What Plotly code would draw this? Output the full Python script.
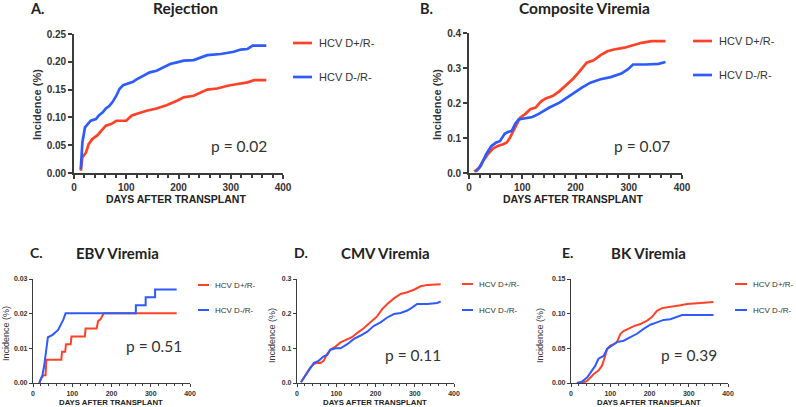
import plotly.graph_objects as go

W, H = 796, 407
RED = "#FF4128"
BLUE = "#2D5BFF"
TXT = "#333333"
AX = "#3C3C3C"

# ---------------- data ----------------
# A. Rejection
a_pos_days = [13, 16, 23, 28, 35, 45, 55, 61, 71, 81, 100, 110, 119, 139, 158, 177, 197, 210, 229, 242, 255, 274, 294, 313, 332, 345, 368]
a_pos_vals = [0.004, 0.028, 0.037, 0.052, 0.061, 0.068, 0.079, 0.085, 0.088, 0.094, 0.094, 0.103, 0.106, 0.112, 0.116, 0.122, 0.130, 0.136, 0.139, 0.145, 0.150, 0.152, 0.157, 0.160, 0.163, 0.167, 0.167]
a_neg_days = [13, 16, 21, 26, 32, 42, 48, 55, 61, 68, 74, 81, 87, 94, 100, 113, 119, 132, 145, 158, 171, 184, 197, 210, 229, 242, 255, 281, 294, 306, 319, 332, 342, 368]
a_neg_vals = [0.007, 0.055, 0.082, 0.088, 0.094, 0.097, 0.104, 0.109, 0.116, 0.121, 0.128, 0.139, 0.151, 0.158, 0.160, 0.164, 0.168, 0.175, 0.181, 0.184, 0.190, 0.196, 0.199, 0.202, 0.203, 0.208, 0.212, 0.214, 0.216, 0.218, 0.222, 0.223, 0.229, 0.229]

# B. Composite Viremia
b_pos_days = [10, 19, 26, 35, 45, 54, 64, 71, 77, 83, 90, 96, 106, 115, 125, 135, 144, 157, 170, 183, 196, 208, 221, 234, 247, 260, 272, 292, 304, 324, 343, 369]
b_pos_vals = [0.004, 0.015, 0.034, 0.053, 0.070, 0.077, 0.082, 0.087, 0.101, 0.120, 0.144, 0.158, 0.169, 0.182, 0.187, 0.204, 0.213, 0.220, 0.234, 0.253, 0.270, 0.291, 0.315, 0.322, 0.337, 0.348, 0.353, 0.358, 0.363, 0.372, 0.377, 0.377]
b_neg_days = [13, 22, 32, 42, 51, 58, 67, 74, 80, 87, 93, 106, 119, 131, 151, 170, 183, 196, 212, 228, 247, 266, 286, 298, 308, 332, 356, 369]
b_neg_vals = [0.004, 0.020, 0.053, 0.077, 0.087, 0.091, 0.112, 0.118, 0.120, 0.141, 0.153, 0.156, 0.160, 0.169, 0.187, 0.201, 0.215, 0.227, 0.244, 0.258, 0.268, 0.274, 0.284, 0.296, 0.310, 0.310, 0.312, 0.317]

# C. EBV Viremia
c_pos_days = [16, 20, 27, 32, 34, 72, 74, 82, 84, 96, 98, 132, 134, 162, 166, 172, 180, 366]
c_pos_vals = [0.0, 0.0012, 0.0022, 0.0022, 0.0067, 0.0067, 0.0090, 0.0090, 0.0112, 0.0112, 0.0134, 0.0134, 0.0157, 0.0157, 0.0179, 0.0184, 0.0201, 0.0201]
c_neg_days = [16, 24, 28, 34, 38, 50, 64, 77, 83, 262, 262, 287, 287, 311, 311, 366]
c_neg_vals = [0.0, 0.0023, 0.0046, 0.0105, 0.0132, 0.0139, 0.0153, 0.0182, 0.0201, 0.0201, 0.0224, 0.0224, 0.0247, 0.0247, 0.0270, 0.0270]

# D. CMV Viremia
d_pos_days = [10, 17, 26, 34, 43, 51, 60, 68, 77, 85, 98, 111, 128, 140, 153, 170, 187, 204, 217, 230, 247, 264, 281, 298, 315, 332, 366]
d_pos_vals = [0.002, 0.016, 0.031, 0.045, 0.055, 0.058, 0.058, 0.064, 0.084, 0.096, 0.105, 0.117, 0.125, 0.132, 0.144, 0.158, 0.175, 0.192, 0.213, 0.228, 0.244, 0.257, 0.262, 0.269, 0.279, 0.283, 0.285]
d_neg_days = [10, 21, 34, 43, 55, 68, 77, 85, 98, 111, 128, 145, 162, 179, 196, 213, 230, 247, 264, 281, 294, 306, 332, 357, 366]
d_neg_vals = [0.002, 0.021, 0.040, 0.058, 0.064, 0.077, 0.081, 0.096, 0.100, 0.100, 0.112, 0.127, 0.137, 0.148, 0.165, 0.175, 0.189, 0.199, 0.202, 0.209, 0.218, 0.228, 0.228, 0.231, 0.235]

# E. BK Viremia
e_pos_days = [15, 32, 41, 49, 58, 70, 79, 87, 92, 100, 109, 117, 126, 134, 147, 160, 177, 194, 206, 219, 232, 245, 262, 279, 296, 313, 347, 363]
e_pos_vals = [0.0, 0.001, 0.003, 0.008, 0.013, 0.018, 0.025, 0.039, 0.049, 0.054, 0.056, 0.059, 0.071, 0.075, 0.079, 0.082, 0.085, 0.090, 0.095, 0.104, 0.108, 0.109, 0.111, 0.112, 0.114, 0.115, 0.117, 0.117]
e_neg_days = [15, 28, 41, 49, 62, 70, 83, 92, 104, 117, 134, 151, 168, 185, 202, 219, 236, 253, 270, 283, 363]
e_neg_vals = [0.0, 0.002, 0.008, 0.015, 0.025, 0.035, 0.039, 0.049, 0.054, 0.059, 0.061, 0.066, 0.071, 0.078, 0.084, 0.0875, 0.091, 0.092, 0.096, 0.098, 0.098]

series_names = ["HCV D+/R-", "HCV D-/R-"]
x_ticks = [0, 100, 200, 300, 400]
x_title = "DAYS AFTER TRANSPLANT"
y_title = "Incidence (%)"

# ---------------- layout of panels (pixels) ----------------
panels = [
    dict(letter="A.", title="Rejection", p="p = 0.02", ymax=0.25, dy=0.05, fmt=".2f",
         pos=(a_pos_days, a_pos_vals), neg=(a_neg_days, a_neg_vals),
         x0=74, x1=283, yt=34, yb=173, big=True,
         let_x=37, tit_x=185, tit_y=8.5, ytit_x=37, ytit_y=105, xtit_y=199,
         leg_x=293, leg_len=19, leg_y=(43, 77), p_x=239, p_y=146),
    dict(letter="B.", title="Composite Viremia", p="p = 0.07", ymax=0.4, dy=0.1, fmt=".1f",
         pos=(b_pos_days, b_pos_vals), neg=(b_neg_days, b_neg_vals),
         x0=469, x1=682, yt=33, yb=173, big=True,
         let_x=426, tit_x=584, tit_y=8.5, ytit_x=437, ytit_y=105, xtit_y=199,
         leg_x=693, leg_len=19, leg_y=(41, 75), p_x=642, p_y=146),
    dict(letter="C.", title="EBV Viremia", p="p = 0.51", ymax=0.03, dy=0.01, fmt=".2f",
         pos=(c_pos_days, c_pos_vals), neg=(c_neg_days, c_neg_vals),
         x0=33, x1=190, yt=279, yb=383, big=False,
         let_x=36, tit_x=117, tit_y=252.5, ytit_x=6, ytit_y=334, xtit_y=402.5,
         leg_x=198, leg_len=11, leg_y=(285, 310), p_x=154, p_y=346),
    dict(letter="D.", title="CMV Viremia", p="p = 0.11", ymax=0.3, dy=0.1, fmt=".1f",
         pos=(d_pos_days, d_pos_vals), neg=(d_neg_days, d_neg_vals),
         x0=297, x1=454, yt=279, yb=383, big=False,
         let_x=301, tit_x=385, tit_y=252.5, ytit_x=272, ytit_y=336, xtit_y=402.5,
         leg_x=462, leg_len=11, leg_y=(284, 310), p_x=413, p_y=355),
    dict(letter="E.", title="BK Viremia", p="p = 0.39", ymax=0.15, dy=0.05, fmt=".2f",
         pos=(e_pos_days, e_pos_vals), neg=(e_neg_days, e_neg_vals),
         x0=571, x1=728, yt=279, yb=383, big=False,
         let_x=567, tit_x=648, tit_y=252.5, ytit_x=540, ytit_y=336, xtit_y=402.5,
         leg_x=735, leg_len=12, leg_y=(284, 310), p_x=689, p_y=355),
]

def fx(p):
    return p / W

def fy(p):
    return 1 - p / H

fig = go.Figure()
annotations = []
shapes = []
layout = {}

for i, pn in enumerate(panels, start=1):
    sfx = "" if i == 1 else str(i)
    xa, ya = "x" + sfx, "y" + sfx
    big = pn["big"]
    lw = 2.7 if big else 2.0
    for (days, vals), col in ((pn["pos"], RED), (pn["neg"], BLUE)):
        fig.add_trace(go.Scatter(x=days, y=vals, mode="lines", xaxis=xa, yaxis=ya,
                                 line=dict(color=col, width=lw), showlegend=False,
                                 hoverinfo="skip"))
    tick_sz = 10 if big else 7
    axw = 1.6 if big else 1.2
    common = dict(showline=True, linecolor=AX, linewidth=axw, ticks="outside",
                  tickcolor=AX, tickwidth=axw, ticklen=4 if big else 3,
                  showgrid=False, zeroline=False,
                  tickfont=dict(family="Liberation Sans", size=tick_sz, color=TXT, weight="bold"))
    layout["xaxis" + sfx] = dict(common, domain=[fx(pn["x0"]), fx(pn["x1"])], anchor=ya,
                                 range=[0, 400], tickvals=x_ticks,
                                 minor=dict(dtick=20, tick0=0, ticks="outside", ticklen=3 if big else 2,
                                            tickwidth=axw, tickcolor=AX, showgrid=False))
    layout["yaxis" + sfx] = dict(common, domain=[fy(pn["yb"]), fy(pn["yt"])], anchor=xa,
                                 range=[0, pn["ymax"]], dtick=pn["dy"], tick0=0,
                                 tickformat=pn["fmt"])

    # titles
    ttl_sz = 14.5 if big else 14
    annotations.append(dict(text=pn["letter"], x=fx(pn["let_x"]), y=fy(pn["tit_y"]), xref="paper", yref="paper",
                            showarrow=False, xanchor="center", yanchor="middle",
                            font=dict(family="Lato", size=ttl_sz, color="#222", weight="bold")))
    annotations.append(dict(text=pn["title"], x=fx(pn["tit_x"]), y=fy(pn["tit_y"]), xref="paper", yref="paper",
                            showarrow=False, xanchor="center", yanchor="middle",
                            font=dict(family="Lato", size=ttl_sz + 1, color="#222", weight="bold")))
    # axis titles
    annotations.append(dict(text=x_title, x=fx((pn["x0"] + pn["x1"]) / 2 - (3 if big else 1)),
                            y=fy(pn["xtit_y"]), xref="paper", yref="paper",
                            showarrow=False, xanchor="center", yanchor="middle",
                            font=dict(family="Liberation Sans", size=10.5 if big else 7.8, color="#222", weight="bold")))
    annotations.append(dict(text=y_title, x=fx(pn["ytit_x"]), y=fy(pn["ytit_y"]), xref="paper", yref="paper",
                            showarrow=False, xanchor="center", yanchor="middle", textangle=-90,
                            font=dict(family="Liberation Sans", size=11 if big else 9, color=TXT,
                                      weight="bold" if big else "normal")))
    # p value
    annotations.append(dict(text=pn["p"], x=fx(pn["p_x"]), y=fy(pn["p_y"]), xref="paper", yref="paper",
                            showarrow=False, xanchor="center", yanchor="middle",
                            font=dict(family="Lato", size=15.5, color=TXT)))
    # legend
    for name, col, ly in zip(series_names, (RED, BLUE), pn["leg_y"]):
        shapes.append(dict(type="line", xref="paper", yref="paper",
                           x0=fx(pn["leg_x"]), x1=fx(pn["leg_x"] + pn["leg_len"]),
                           y0=fy(ly), y1=fy(ly), line=dict(color=col, width=lw)))
        annotations.append(dict(text=name, x=fx(pn["leg_x"] + pn["leg_len"] + (5 if big else 4)), y=fy(ly),
                                xref="paper", yref="paper", showarrow=False,
                                xanchor="left", yanchor="middle",
                                font=dict(family="Liberation Sans", size=11 if big else 8, color=TXT)))

fig.update_layout(width=W, height=H, margin=dict(l=0, r=0, t=0, b=0, autoexpand=False),
                  paper_bgcolor="white", plot_bgcolor="white",
                  annotations=annotations, shapes=shapes, **layout)

fig.write_html("out.html", config={"displayModeBar": False},
               post_script="document.body.style.margin='0';document.body.style.overflow='hidden';")
